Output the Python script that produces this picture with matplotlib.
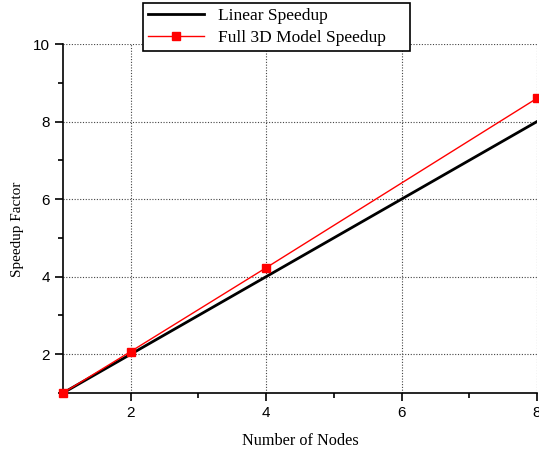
import numpy as np
import matplotlib
matplotlib.use('Agg')
import matplotlib.pyplot as plt
from matplotlib.ticker import MultipleLocator

# data
nodes = [1, 2, 4, 8]
linear_speedup = [1, 2, 4, 8]
model_speedup = [1, 2.07, 4.23, 8.6]

fig = plt.figure(figsize=(5.39, 4.5), dpi=100)
ax = fig.add_axes([63 / 539, 1 - 393 / 450, (537 - 63) / 539, (393 - 44) / 450])

ax.plot(nodes, linear_speedup, color='black', lw=2, label='Linear Speedup', zorder=3)
ax.plot(nodes, model_speedup, color='red', lw=1, marker='s', ms=6,
        label='Full 3D Model Speedup', zorder=4, clip_on=False)

ax.set_xlim(1, 8)
ax.set_ylim(1, 10)
ax.xaxis.set_major_locator(MultipleLocator(2))
ax.xaxis.set_minor_locator(MultipleLocator(1))
ax.yaxis.set_major_locator(MultipleLocator(2))
ax.yaxis.set_minor_locator(MultipleLocator(1))

for s in ['top', 'right']:
    ax.spines[s].set_visible(False)
for s in ['left', 'bottom']:
    ax.spines[s].set_linewidth(1.2)

ax.tick_params(which='major', direction='out', length=6, width=1.2,
               labelsize=11, labelfontfamily='Liberation Sans')
ax.tick_params(which='minor', direction='out', length=3.5, width=1.2)

ax.grid(True, which='major', linestyle=(0, (1, 1.5)), color='#444444', lw=0.8)
# no grid line along the top edge
ax.get_ygridlines()[-1].set_visible(False)

ax.set_xlabel('Number of Nodes', fontsize=11.7, family='Liberation Serif', labelpad=9)
ax.set_ylabel('Speedup Factor', fontsize=11, family='Liberation Serif')
ax.yaxis.set_label_coords(-39 / 474, 0.47)

# legend box sits above the axes, partly outside
leg = fig.legend(loc='upper left',
                 bbox_to_anchor=(143 / 539, 1 - 53 / 450, (410 - 143) / 539, 50 / 450),
                 mode='expand',
                 prop={'family': 'Liberation Serif', 'size': 12.5},
                 fancybox=False, edgecolor='black', framealpha=1,
                 handlelength=3.2, borderpad=0.3, labelspacing=0.3,
                 borderaxespad=0)
leg.get_frame().set_linewidth(1.2)

plt.savefig('out.png', dpi=100)
